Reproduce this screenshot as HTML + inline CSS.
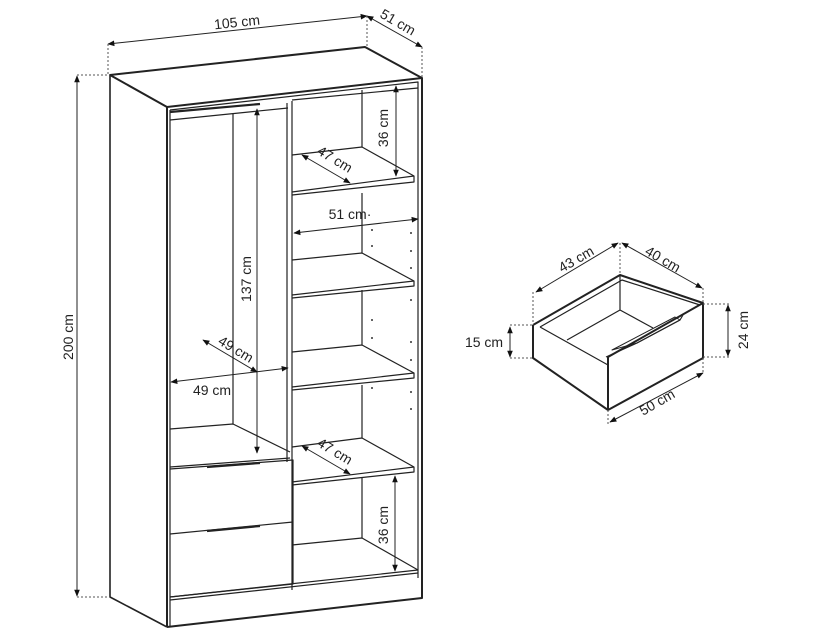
<!DOCTYPE html>
<html><head><meta charset="utf-8"><style>
html,body{margin:0;padding:0;background:#fff;}
svg{display:block;}
text{font-family:"Liberation Sans",Arial,sans-serif;font-size:14px;fill:#222;}
</style></head><body>
<svg width="820" height="640" viewBox="0 0 820 640" xmlns="http://www.w3.org/2000/svg">
<defs>
<marker id="a" viewBox="0 0 10 10" refX="9" refY="5" markerWidth="10" markerHeight="7" orient="auto-start-reverse" markerUnits="userSpaceOnUse"><path d="M0,1 L10,5 L0,9 z" fill="#111"/></marker>
</defs>
<g fill="none" stroke="#222" stroke-width="1.2" stroke-linejoin="round">
<path d="M110,75 L365,47 L422,78 L167,107 Z" stroke-width="2"/>
<path d="M110,75 L110,597 L167,627" stroke-width="1.6"/>
<path d="M167,107 L167,627" stroke-width="2"/>
<path d="M422,78 L422,598 L167,627" stroke-width="2"/>
<path d="M170,110 L418,82 L418,578"/>
<path d="M170,110 L170,627"/>
<path d="M170,112 L260,104" stroke-width="2.2"/>
<path d="M170,120 L288,108"/>
<path d="M292,100 L418,88"/>
<path d="M287,103 L287,462 M292,101 L292,590"/>
<path d="M233,114 L233,424"/>
<path d="M170,429 L233,424 L290,452"/>
<path d="M170,467 L290,458"/>
<path d="M170,469 L293,460 L293,584 L170,597 M170,534 L293,522"/>
<path d="M207,467 L260,463 M207,531 L260,526" stroke-width="2.2"/>
<path d="M362,90 L362,147 M362,193 L362,253 M362,290 L362,345 M362,385 L362,438 M362,478 L362,538"/>
<path d="M292,155 L362,147 L414,176 L414,182 L292,195 M292,192 L414,176"/>
<path d="M292,260 L362,253 L414,281 L414,286 L292,298 M292,295 L414,281"/>
<path d="M292,352 L362,345 L414,373 L414,378 L292,390 M292,387 L414,373"/>
<path d="M292,447 L362,438 L414,467 L414,472 L292,485 M292,482 L414,467"/>
<path d="M292,545 L362,538 L418,570 M170,597 L418,570 M170,600 L418,573"/>
<path d="M533,325 L620,275 L703,303 M533,325 L533,358 L608,410 L703,358 L703,303 L608,357 L608,410" stroke-width="2"/>
<path d="M540,327 L622,280 L700,305 M540,327 L608,365 M620,275 L620,310 L567,340 M620,310 L653,328"/>
<path d="M606,357 L637,343 L680,320 L683,315" />
<path d="M612,350 L675,317 L680,320 L637,343 Z" stroke-width="1"/>
</g>
<g stroke="#222" stroke-width="1" fill="none">
<path d="M108,44 L367,16" marker-start="url(#a)" marker-end="url(#a)"/>
<path d="M367,16 L422,47" marker-start="url(#a)" marker-end="url(#a)"/>
<path d="M77,76 L77,596" marker-start="url(#a)" marker-end="url(#a)"/>
<path d="M257,109 L257,453" marker-start="url(#a)" marker-end="url(#a)"/>
<path d="M171,382 L288,368" marker-start="url(#a)" marker-end="url(#a)"/>
<path d="M203,340 L257,372" marker-start="url(#a)" marker-end="url(#a)"/>
<path d="M396,86 L396,176" marker-start="url(#a)" marker-end="url(#a)"/>
<path d="M395,476 L395,571" marker-start="url(#a)" marker-end="url(#a)"/>
<path d="M302,155 L350,183" marker-start="url(#a)" marker-end="url(#a)"/>
<path d="M302,446 L350,474" marker-start="url(#a)" marker-end="url(#a)"/>
<path d="M294,233 L418,219" marker-start="url(#a)" marker-end="url(#a)"/>
<path d="M536,292 L618,243" marker-start="url(#a)" marker-end="url(#a)"/>
<path d="M622,243 L702,288" marker-start="url(#a)" marker-end="url(#a)"/>
<path d="M510,327 L510,357" marker-start="url(#a)" marker-end="url(#a)"/>
<path d="M728,305 L728,356" marker-start="url(#a)" marker-end="url(#a)"/>
<path d="M610,422 L703,373" marker-start="url(#a)" marker-end="url(#a)"/>
</g>
<g stroke="#555" stroke-width="1" stroke-dasharray="2,2" fill="none">
<path d="M108,44 L108,75 M367,16 L367,47 M422,47 L422,78 M77,75 L110,75 M77,597 L110,597"/>
<path d="M533,292 L533,325 M620,243 L620,275 M703,288 L703,303 M510,325 L533,325 M510,358 L533,358 M703,304 L730,304 M703,357 L730,357 M608,410 L608,424 M703,358 L703,374"/>
</g>
<g fill="#333">
<circle cx="372" cy="230" r="1"/><circle cx="411" cy="233" r="1"/><circle cx="372" cy="246" r="1"/><circle cx="411" cy="251" r="1"/><circle cx="411" cy="268" r="1"/>
<circle cx="372" cy="320" r="1"/><circle cx="411" cy="300" r="1"/><circle cx="372" cy="338" r="1"/><circle cx="411" cy="342" r="1"/><circle cx="411" cy="360" r="1"/>
<circle cx="372" cy="388" r="1"/><circle cx="411" cy="392" r="1"/><circle cx="411" cy="409" r="1"/>
</g>
<text x="237" y="27" text-anchor="middle" transform="rotate(-6 237 22)">105 cm</text>
<text x="398" y="27" text-anchor="middle" transform="rotate(30 398 22)">51 cm</text>
<text x="68" y="342" text-anchor="middle" transform="rotate(-90 68 337)">200 cm</text>
<text x="246" y="284" text-anchor="middle" transform="rotate(-90 246 279)">137 cm</text>
<text x="212" y="395" text-anchor="middle">49 cm</text>
<text x="236" y="354" text-anchor="middle" transform="rotate(31 236 349)">49 cm</text>
<text x="383" y="133" text-anchor="middle" transform="rotate(-90 383 128)">36 cm</text>
<text x="383" y="530" text-anchor="middle" transform="rotate(-90 383 525)">36 cm</text>
<text x="335" y="164" text-anchor="middle" transform="rotate(31 335 159)">47 cm</text>
<text x="335" y="456" text-anchor="middle" transform="rotate(31 335 451)">47 cm</text>
<text x="350" y="219" text-anchor="middle">51 cm·</text>
<text x="576" y="264" text-anchor="middle" transform="rotate(-30 576 259)">43 cm</text>
<text x="663" y="264" text-anchor="middle" transform="rotate(30 663 259)">40 cm</text>
<text x="484" y="347" text-anchor="middle">15 cm</text>
<text x="743" y="335" text-anchor="middle" transform="rotate(-90 743 330)">24 cm</text>
<text x="657" y="407" text-anchor="middle" transform="rotate(-30 657 402)">50 cm</text>
</svg>
</body></html>
